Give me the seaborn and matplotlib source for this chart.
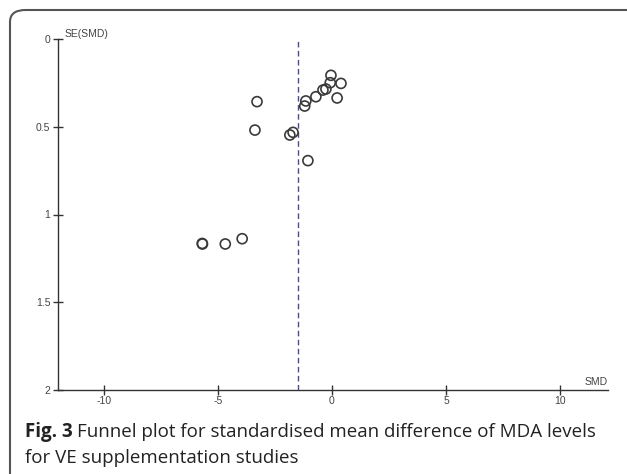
import matplotlib
matplotlib.use("Agg")
import matplotlib.pyplot as plt
from matplotlib.patches import FancyBboxPatch
import seaborn as sns
import pandas as pd

smd = [-3.28, -3.37, -1.84, -1.70, -1.05, -1.19, -1.14, -0.70, -0.39, -0.26,
       -0.07, -0.04, 0.40, 0.23, -5.67, -5.68, -4.67, -3.93]
se = [0.357, 0.519, 0.547, 0.532, 0.693, 0.382, 0.353, 0.329, 0.291, 0.285,
      0.249, 0.207, 0.253, 0.336, 1.168, 1.165, 1.168, 1.138]
pooled = -1.49
xticks = [-10, -5, 0, 5, 10]
yticks = [0, 0.5, 1, 1.5, 2]
ytick_labels = ["0", "0.5", "1", "1.5", "2"]

df = pd.DataFrame({"SMD": smd, "SE": se})

sns.set_style("white")
plt.rcParams['font.family'] = ['Liberation Sans', 'DejaVu Sans']

fig = plt.figure(figsize=(6.27, 4.74), dpi=100)
W, H = 627, 474
ax = fig.add_axes([58 / W, 1 - 390 / H, (608 - 58) / W, (390 - 39) / H])

ax.axvline(pooled, ymin=0, ymax=1, color="#4a4a9a", lw=1.0, ls=(0, (4, 2.5)))
sns.scatterplot(data=df, x="SMD", y="SE", ax=ax, marker="o", s=52,
                facecolor="none", edgecolor="#3a3a3a", linewidth=1.2, zorder=3)

ax.set_xlim(-12, 12.1)
ax.set_ylim(2, 0)
ax.set_xticks(xticks)
ax.set_xticklabels([str(t) for t in xticks])
ax.set_yticks(yticks)
ax.set_yticklabels(ytick_labels)
ax.set_xlabel("")
ax.set_ylabel("")
for s in ["top", "right"]:
    ax.spines[s].set_visible(False)
for s in ["left", "bottom"]:
    ax.spines[s].set_color("#333333")
    ax.spines[s].set_linewidth(1.0)
ax.tick_params(axis="both", direction="inout", length=7, width=1.0,
               color="#333333", labelsize=7.5, labelcolor="#444444", pad=2)
ax.tick_params(axis="x", bottom=True, pad=1)
ax.tick_params(axis="y", left=True)

ax.text(0.012, 1.0, "SE(SMD)", transform=ax.transAxes, fontsize=7.5,
        color="#444444", ha="left", va="bottom")
ax.text(1.0, 0.008, "SMD", transform=ax.transAxes, fontsize=7.5,
        color="#444444", ha="right", va="bottom")

# rounded border
border = FancyBboxPatch((10 / W, -0.05), (W + 40) / W, 1 - 10 / H + 0.05,
                        boxstyle="round,pad=0,rounding_size=0.025",
                        transform=fig.transFigure, fill=False,
                        edgecolor="#555555", lw=1.5, clip_on=False)
fig.patches.append(border)

cap_font = ['Open Sans', 'DejaVu Sans']
fs = 13.5
t1 = fig.text(25 / W, 1 - 432 / H, "Fig. 3", fontsize=fs, fontweight="bold",
              family=cap_font, va="center", ha="left", color="#222222")
fig.canvas.draw()
bb = t1.get_window_extent(renderer=fig.canvas.get_renderer())
fig.text((bb.x1 + 4) / W, 1 - 432 / H,
         "Funnel plot for standardised mean difference of MDA levels",
         fontsize=fs, family=cap_font, va="center", ha="left", color="#222222")
fig.text(25 / W, 1 - 458 / H, "for VE supplementation studies",
         fontsize=fs, family=cap_font, va="center", ha="left", color="#222222")

fig.savefig("out.png", dpi=100)
